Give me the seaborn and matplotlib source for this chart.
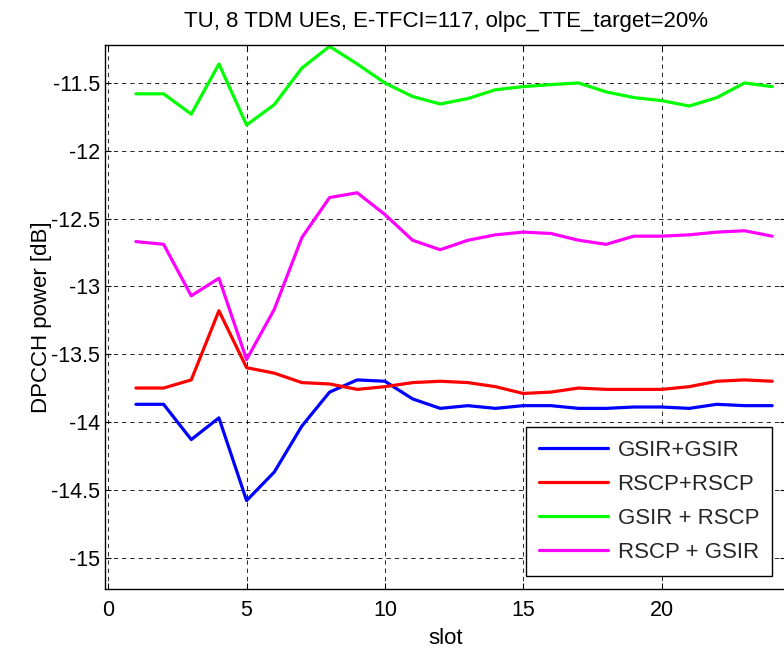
import numpy as np
import pandas as pd
import matplotlib
matplotlib.use("Agg")
import matplotlib.pyplot as plt
import seaborn as sns

slots = list(range(1, 25))
gsir_gsir = [-13.87, -13.87, -14.13, -13.97, -14.58, -14.37, -14.03, -13.78, -13.69, -13.70,
             -13.83, -13.90, -13.88, -13.90, -13.88, -13.88, -13.90, -13.90, -13.89, -13.89,
             -13.90, -13.87, -13.88, -13.88]
rscp_rscp = [-13.75, -13.75, -13.69, -13.18, -13.60, -13.64, -13.71, -13.72, -13.76, -13.74,
             -13.71, -13.70, -13.71, -13.74, -13.79, -13.78, -13.75, -13.76, -13.76, -13.76,
             -13.74, -13.70, -13.69, -13.70]
gsir_rscp = [-11.58, -11.58, -11.73, -11.36, -11.81, -11.66, -11.39, -11.23, -11.36, -11.50,
             -11.60, -11.655, -11.615, -11.55, -11.527, -11.512, -11.50, -11.566, -11.608, -11.63,
             -11.67, -11.608, -11.50, -11.527]
rscp_gsir = [-12.67, -12.69, -13.07, -12.94, -13.54, -13.17, -12.64, -12.345, -12.31, -12.47,
             -12.66, -12.73, -12.66, -12.62, -12.60, -12.61, -12.66, -12.69, -12.63, -12.63,
             -12.62, -12.60, -12.59, -12.63]
labels = ["GSIR+GSIR", "RSCP+RSCP", "GSIR + RSCP", "RSCP + GSIR"]
colors = ["#0000ff", "#ff0000", "#00ff00", "#ff00ff"]
xticks = [0, 5, 10, 15, 20]
yticks = [-11.5, -12, -12.5, -13, -13.5, -14, -14.5, -15]

df = pd.concat([
    pd.DataFrame({"slot": slots, "power": vals, "series": lab})
    for vals, lab in zip([gsir_gsir, rscp_rscp, gsir_rscp, rscp_gsir], labels)
])

sns.set_theme(style="white")
plt.rcParams["font.family"] = ["Liberation Sans", "DejaVu Sans"]
plt.rcParams["axes.unicode_minus"] = False

fig = plt.figure(figsize=(7.84, 6.48), dpi=100)
W, H = 784, 648
left, right, bottom, top = 105.5, 786, 588.7, 45
ax = fig.add_axes([left / W, 1 - bottom / H, (right - left) / W, (bottom - top) / H])

sns.lineplot(data=df, x="slot", y="power", hue="series", hue_order=labels,
             palette=colors, linewidth=2.3, ax=ax, legend=True)

ax.set_xlim(-0.1, 24.5)
ax.set_ylim(-15.23, -11.22)
ax.set_xticks(xticks)
ax.set_xticklabels([str(t) for t in xticks])
ax.set_yticks(yticks)
ax.set_yticklabels(["%g" % t for t in yticks])

ax.grid(True, color="black", linestyle=(0, (4.5, 4)), linewidth=0.7, alpha=0.85)
for s in ax.spines.values():
    s.set_color("black")
    s.set_linewidth(1.0)
ax.tick_params(axis="both", direction="in", length=4, width=0.8, colors="black",
               labelsize=15.5, top=True, right=True, bottom=True, left=True)
ax.tick_params(axis="x", pad=8)
ax.tick_params(axis="y", pad=4)

ax.set_xlabel("slot", fontsize=16, color="black", labelpad=5)
ax.set_ylabel("DPCCH power [dB]", fontsize=16, color="black", labelpad=-1)
ax.set_title("TU, 8 TDM UEs, E-TFCI=117, olpc_TTE_target=20%", fontsize=16, color="black", pad=13)

leg = ax.legend(loc="lower right", bbox_to_anchor=(0.980, 0.0236), borderaxespad=0,
                fontsize=16, frameon=True, fancybox=False, framealpha=1,
                edgecolor="black", handlelength=3.1, handletextpad=0.42,
                labelspacing=0.58, borderpad=0.6, title=None)
leg.get_frame().set_linewidth(1.0)

fig.savefig("out.png", dpi=100)
